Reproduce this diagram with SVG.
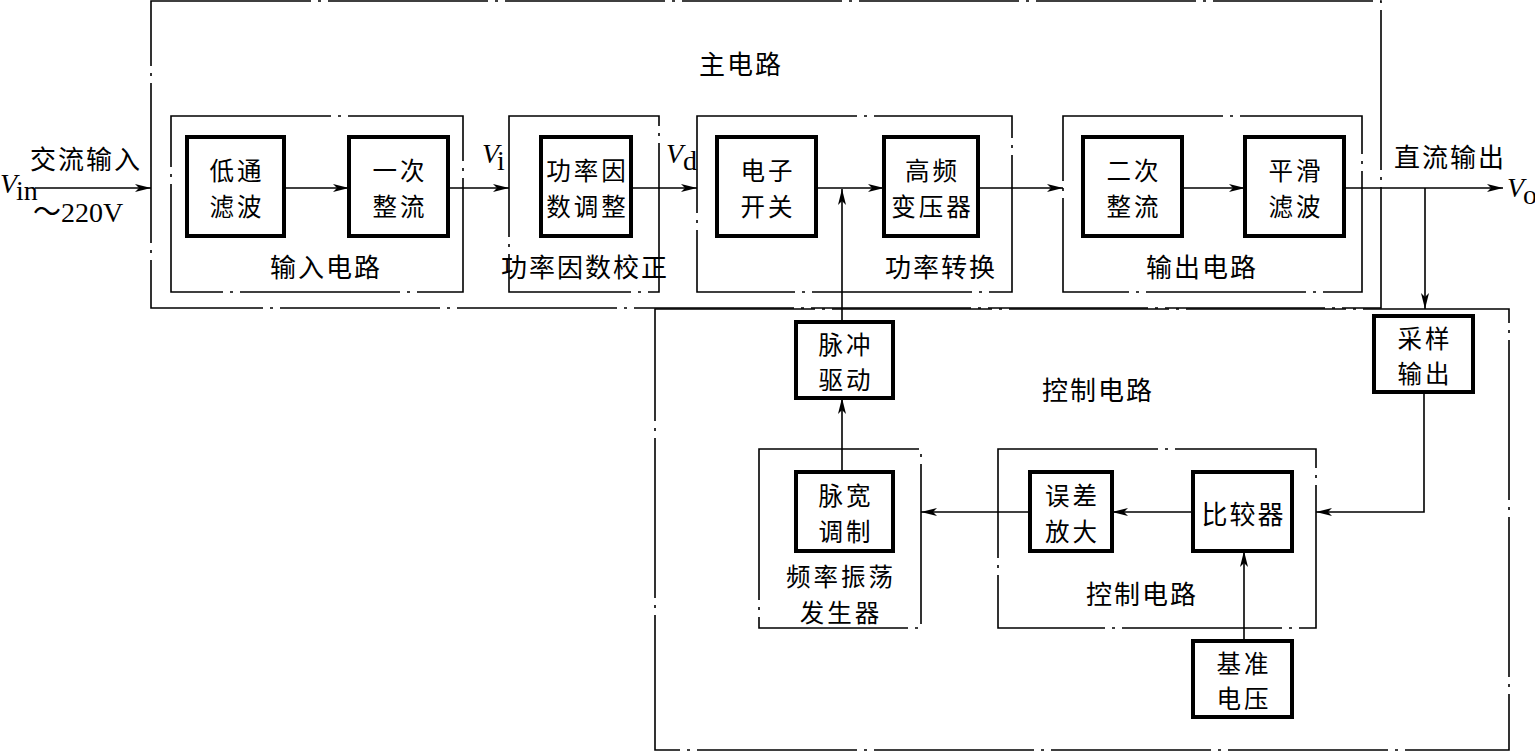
<svg xmlns="http://www.w3.org/2000/svg" width="1535" height="752" viewBox="0 0 1535 752">
<style>
.bg{fill:#fff}
.dd{fill:none;stroke:#000;stroke-width:1.6;stroke-dasharray:160 7 3 7}
.blk{fill:#fff;stroke:#000;stroke-width:4}
.ln{fill:none;stroke:#000;stroke-width:1.6}
.t{font-family:"Noto Sans CJK SC","Noto Sans CJK JP",sans-serif;font-size:26px;letter-spacing:2px;fill:#000;text-anchor:middle;dominant-baseline:central}
.b{font-size:24.5px;letter-spacing:3px}
.s{font-family:"Liberation Serif","Noto Sans CJK SC",serif;font-size:28px;fill:#000}
.i{font-style:italic}
</style>
<defs>
<marker id="ah" viewBox="0 0 16 8" refX="16" refY="4" markerWidth="16" markerHeight="8" markerUnits="userSpaceOnUse" orient="auto">
<path d="M0,0 L16,4 L0,8 L4,4 Z" fill="#000"/>
</marker>
</defs>
<rect class="bg" width="1535" height="752"/>

<g id="main-circuit">
<rect class="dd" x="151" y="1" width="1230" height="307"/>
<text class="t" x="741" y="62">主电路</text>
</g>
<g id="control-circuit">
<rect class="dd" x="655" y="309" width="854" height="441"/>
<text class="t" x="1098" y="388">控制电路</text>
</g>

<g id="input-circuit">
<rect class="dd" x="171" y="116" width="292" height="176"/>
<text class="t" x="326" y="265">输入电路</text>
</g>
<g id="pfc">
<rect class="dd" x="509" y="116" width="150" height="176"/>
<text class="t" x="585" y="265">功率因数校正</text>
</g>
<g id="power-conversion">
<rect class="dd" x="697" y="116" width="315" height="176"/>
<text class="t" x="941" y="265">功率转换</text>
</g>
<g id="output-circuit">
<rect class="dd" x="1063" y="116" width="299" height="176"/>
<text class="t" x="1202" y="265">输出电路</text>
</g>
<g id="oscillator">
<rect class="dd" x="759" y="449" width="162" height="179"/>
<text class="t b" x="841" y="575"><tspan x="841">频率振荡</tspan><tspan x="841" dy="35.5">发生器</tspan></text>
</g>
<g id="control-sub">
<rect class="dd" x="998" y="449" width="318" height="179"/>
<text class="t" x="1142" y="592">控制电路</text>
</g>

<g id="lowpass">
<rect class="blk" x="187" y="137" width="97" height="99"/>
<text class="t b" x="237" y="169"><tspan x="237">低通</tspan><tspan x="237" dy="35.5">滤波</tspan></text>
</g>
<g id="rect1">
<rect class="blk" x="349" y="137" width="99" height="99"/>
<text class="t b" x="400" y="169"><tspan x="400">一次</tspan><tspan x="400" dy="35.5">整流</tspan></text>
</g>
<g id="pf-adjust">
<rect class="blk" x="541" y="137" width="90" height="99"/>
<text class="t b" x="587.5" y="169"><tspan x="587.5">功率因</tspan><tspan x="587.5" dy="35.5">数调整</tspan></text>
</g>
<g id="switch">
<rect class="blk" x="717" y="137" width="99" height="99"/>
<text class="t b" x="768" y="169"><tspan x="768">电子</tspan><tspan x="768" dy="35.5">开关</tspan></text>
</g>
<g id="transformer">
<rect class="blk" x="884" y="137" width="94" height="99"/>
<text class="t b" x="932.5" y="169"><tspan x="932.5">高频</tspan><tspan x="932.5" dy="35.5">变压器</tspan></text>
</g>
<g id="rect2">
<rect class="blk" x="1083" y="137" width="99" height="99"/>
<text class="t b" x="1134" y="169"><tspan x="1134">二次</tspan><tspan x="1134" dy="35.5">整流</tspan></text>
</g>
<g id="smooth">
<rect class="blk" x="1245" y="137" width="99" height="99"/>
<text class="t b" x="1296" y="169"><tspan x="1296">平滑</tspan><tspan x="1296" dy="35.5">滤波</tspan></text>
</g>
<g id="pulse-drive">
<rect class="blk" x="796" y="322" width="97" height="76"/>
<text class="t b" x="846" y="342.5"><tspan x="846">脉冲</tspan><tspan x="846" dy="35.5">驱动</tspan></text>
</g>
<g id="pwm">
<rect class="blk" x="796" y="472" width="97" height="79"/>
<text class="t b" x="846" y="494"><tspan x="846">脉宽</tspan><tspan x="846" dy="35.5">调制</tspan></text>
</g>
<g id="error-amp">
<rect class="blk" x="1030" y="472" width="82" height="79"/>
<text class="t b" x="1072.5" y="494"><tspan x="1072.5">误差</tspan><tspan x="1072.5" dy="35.5">放大</tspan></text>
</g>
<g id="comparator">
<rect class="blk" x="1193" y="472" width="99" height="79"/>
<text class="t" x="1243.5" y="512">比较器</text>
</g>
<g id="reference">
<rect class="blk" x="1193" y="641" width="99" height="76"/>
<text class="t b" x="1244" y="661.5"><tspan x="1244">基准</tspan><tspan x="1244" dy="35.5">电压</tspan></text>
</g>
<g id="sampling">
<rect class="blk" x="1374" y="316" width="99" height="76"/>
<text class="t b" x="1425" y="336.5"><tspan x="1425">采样</tspan><tspan x="1425" dy="35.5">输出</tspan></text>
</g>

<g id="connectors">
<path class="ln" d="M35,188 H151" marker-end="url(#ah)"/>
<path class="ln" d="M284,188 H349" marker-end="url(#ah)"/>
<path class="ln" d="M448,188 H509" marker-end="url(#ah)"/>
<path class="ln" d="M631,188 H697" marker-end="url(#ah)"/>
<path class="ln" d="M816,188 H884" marker-end="url(#ah)"/>
<path class="ln" d="M978,188 H1063" marker-end="url(#ah)"/>
<path class="ln" d="M1182,188 H1245" marker-end="url(#ah)"/>
<path class="ln" d="M1344,188 H1503" marker-end="url(#ah)"/>
<path class="ln" d="M1425,188 V309" marker-end="url(#ah)"/>
<path class="ln" d="M1424,392 V512 H1316" marker-end="url(#ah)"/>
<path class="ln" d="M1193,512 H1112" marker-end="url(#ah)"/>
<path class="ln" d="M1030,512 H921" marker-end="url(#ah)"/>
<path class="ln" d="M1244,641 V551" marker-end="url(#ah)"/>
<path class="ln" d="M842,472 V398" marker-end="url(#ah)"/>
<path class="ln" d="M842,322 V189" marker-end="url(#ah)"/>
</g>

<g id="labels">
<text class="t" x="86" y="157">交流输入</text>
<text class="s" x="33" y="222">～220V</text>
<text class="s i" x="0" y="193">V</text>
<text class="s" x="16" y="200" font-size="20">in</text>
<text class="s i" x="482" y="163">V</text>
<text class="s" x="497" y="170" font-size="20">i</text>
<text class="s i" x="666" y="163">V</text>
<text class="s" x="683" y="170" font-size="20">d</text>
<text class="t" x="1450" y="155">直流输出</text>
<text class="s i" x="1507" y="197">V</text>
<text class="s" x="1523" y="204" font-size="20">o</text>
</g>
</svg>
